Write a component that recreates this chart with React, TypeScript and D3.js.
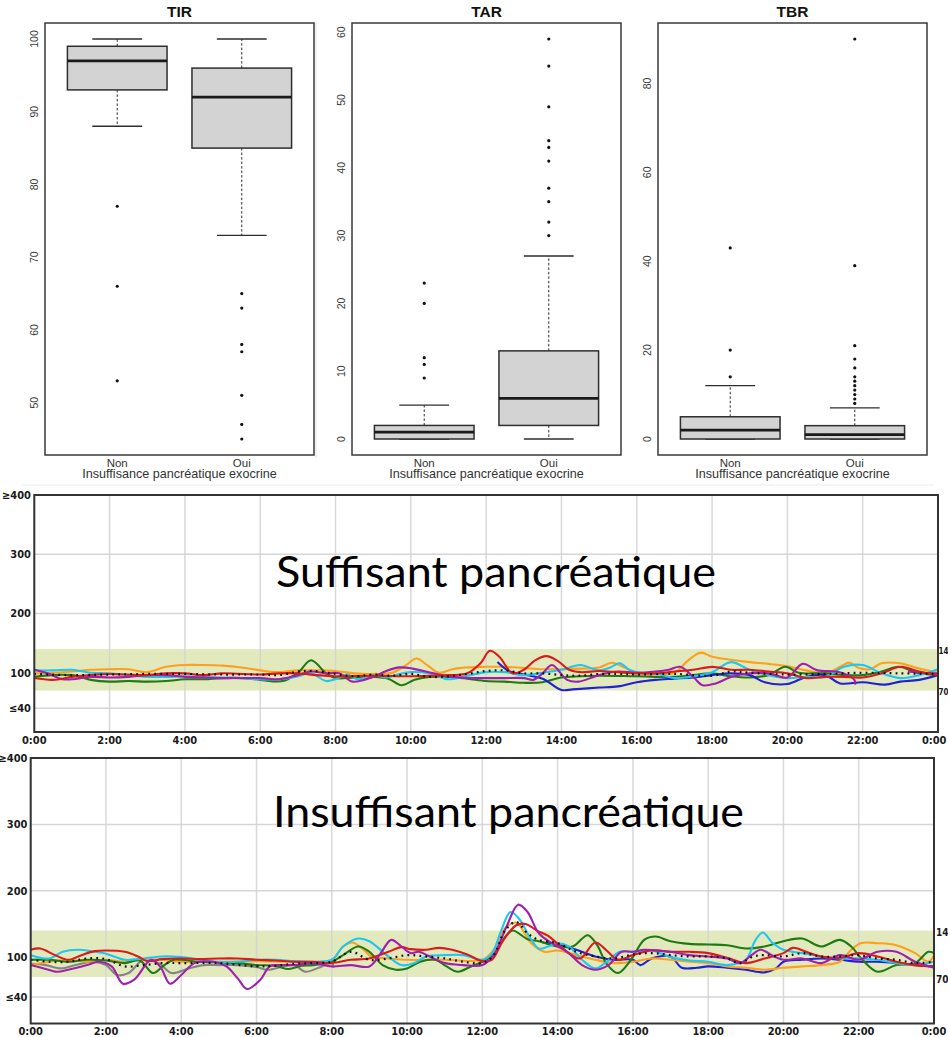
import React from "react";
import * as d3 from "d3";

type Pt = [number, number | null];

// ---------- Boxplot data (TIR / TAR / TBR) : [lower whisker, Q1, median, Q3, upper whisker]
const groups = ["Non", "Oui"];
const tirNon = [88, 93, 97, 99, 100];
const tirOui = [73, 85, 92, 96, 100];
const tirNonOut = [77, 66, 53];
const tirOuiOut = [65, 63, 58, 57, 51, 47, 45];
const tirTicks = [50, 60, 70, 80, 90, 100];

const tarNon = [0, 0, 1, 2, 5];
const tarOui = [0, 2, 6, 13, 27];
const tarNonOut = [9, 11, 12, 20, 23];
const tarOuiOut = [30, 32, 35, 37, 41, 43, 44, 49, 55, 59];
const tarTicks = [0, 10, 20, 30, 40, 50, 60];

const tbrNon = [0, 0, 2, 5, 12];
const tbrOui = [0, 0, 1, 3, 7];
const tbrNonOut = [14, 20, 43];
const tbrOuiOut = [8, 9, 10, 11, 12, 13, 14, 16, 18, 21, 39, 90];
const tbrTicks = [0, 20, 40, 60, 80];

// ---------- CGM profile axes
const hourTicks = [0, 2, 4, 6, 8, 10, 12, 14, 16, 18, 20, 22, 24];
const hourLabels = ["0:00", "2:00", "4:00", "6:00", "8:00", "10:00", "12:00", "14:00", "16:00", "18:00", "20:00", "22:00", "0:00"];
const glucoseTicks = [400, 300, 200, 100, 40];
const glucoseLabels = ["≥400", "300", "200", "100", "≤40"];
const gridGlucose = [300, 200, 40];
const targetRange = [70, 140];
const rangeLabels = ["14", "70"]; // "140" is cut by the picture's right edge in the reference

// ---------- Suffisant pancréatique : [hour, mg/dL]
const sufOrange: Pt[] = [[0,99],[0.5,100],[1,102],[1.5,105],[2,106],[2.5,106],[3,101],[3.5,110],[4,113],[4.5,113],[5,112],[5.5,109],[6,104],[6.4,101],[7,104],[7.5,104],[8,103],[8.5,99],[9,98],[9.5,100],[9.85,112],[10.15,124],[10.45,112],[10.75,100],[11.1,106],[11.5,109],[12,110],[12.5,110],[13,108],[13.5,106],[14,106],[14.5,107],[15,109],[15.35,117],[15.7,108],[16,100],[16.5,98],[17,100],[17.35,120],[17.7,134],[18,127],[18.5,122],[19,118],[19.5,115],[20,111],[20.5,104],[21,99],[21.4,110],[21.65,117],[21.9,108],[22.2,106],[22.5,116],[23,116],[23.5,107],[24,100]];
const sufCyan: Pt[] = [[0,104],[0.5,104],[1,105],[1.5,100],[2,99],[2.5,96],[3,93],[3.5,93],[4,94],[4.5,93],[5,92],[5.5,91],[6,89],[6.5,89],[7,94],[7.35,99],[7.75,86],[8.05,90],[8.3,97],[8.6,89],[9,96],[9.35,92],[9.7,98],[10,101],[10.5,99],[11,89],[11.5,95],[12,101],[12.5,101],[13,96],[13.5,100],[14,105],[14.5,113],[15,104],[15.3,109],[15.55,116],[15.8,105],[16.1,100],[16.5,99],[17,91],[17.5,94],[18,101],[18.5,118],[19,105],[19.5,96],[20,91],[20.5,93],[21,93],[21.5,110],[22,113],[22.5,99],[23,91],[23.5,96],[24,106]];
const sufGreen: Pt[] = [[0,93],[0.5,96],[1,96],[1.5,88],[2,85],[2.5,86],[3,85],[3.5,86],[4,89],[4.5,89],[5,91],[5.5,91],[6,88],[6.6,86],[7,100],[7.35,121],[7.75,99],[8,91],[8.5,92],[9,93],[9.4,90],[9.75,79],[10.1,88],[10.5,93],[11,93],[11.5,90],[12,86],[12.5,85],[13,83],[13.5,84],[14,92],[14.5,94],[15,95],[16,94],[17,93],[17.5,96],[18,99],[18.5,94],[19,92],[19.5,96],[19.95,110],[20.3,100],[21,99],[21.5,96],[22,96],[22.5,102],[22.95,110],[23.5,99],[24,96]];
const sufRed: Pt[] = [[0,91],[0.5,88],[1,93],[1.5,96],[2,98],[3,96],[3.5,99],[4,99],[4.5,96],[5,99],[6,97],[6.5,99],[7,99],[7.5,96],[8,94],[9,95],[10,94],[11,96],[11.5,99],[11.85,116],[12.1,137],[12.35,127],[12.7,99],[13,105],[13.3,121],[13.6,128],[13.9,120],[14.2,105],[14.5,101],[15,103],[15.5,101],[16,99],[16.5,99],[17,102],[17.5,105],[18,110],[18.5,105],[19,105],[19.5,102],[20,99],[20.5,91],[21,93],[21.5,93],[22,92],[22.5,99],[23,110],[23.5,102],[24,96]];
const sufPurple: Pt[] = [[0,105],[0.35,99],[0.75,89],[1,89],[1.5,93],[2,92],[2.5,93],[3,96],[3.5,96],[4,93],[4.5,92],[5,91],[6,91],[6.5,89],[7,96],[7.35,102],[7.75,99],[8.1,99],[8.45,85],[9,93],[9.35,103],[9.7,109],[10.05,107],[10.6,99],[11.1,93],[11.6,91],[12,91],[12.5,91],[13,91],[13.25,88],[13.5,99],[13.75,113],[14.15,88],[14.45,85],[15,96],[15.5,102],[16,100],[16.5,102],[16.85,105],[17.15,110],[17.5,93],[17.75,79],[18.1,82],[18.5,93],[19,99],[19.5,99],[20,92],[20.4,115],[20.8,104],[21.3,102],[21.6,96],[21.78,88],[21.8,80],[22.5,null],[23.2,102],[23.6,100],[24,99]];
const sufBlue: Pt[] = [[12.3,118],[12.6,103],[13,97],[13.5,90],[14,71],[14.3,72],[15,75],[15.5,77],[16,84],[16.5,88],[17,90],[17.5,92],[18,96],[18.5,99],[19,96],[19.4,84],[20,81],[20.5,93],[21,96],[21.4,82],[22,84],[22.6,80],[23,85],[23.5,88],[24,96]];
const sufMedian: Pt[] = [[0,98],[1,96],[2,97],[3,98],[4,98],[5,97],[6,97],[6.5,96],[7,102],[7.4,103],[8,98],[8.5,94],[9,97],[9.5,95],[10,98],[10.5,93],[11,94],[11.5,98],[12,103],[12.5,104],[13,99],[13.5,99],[14,96],[14.5,95],[15,98],[15.5,98],[16,97],[17,98],[18,95],[18.5,102],[19,100],[20,97],[21,98],[22,100],[23,99],[24,98]];

// ---------- Insuffisant pancréatique : [hour, mg/dL]
const insRed: Pt[] = [[0,111],[0.25,113],[0.65,103],[1,96],[1.35,103],[1.7,109],[2,110],[2.5,108],[2.85,101],[3.1,94],[3.5,97],[4,98],[4.5,97],[5,98],[5.5,98],[6,96],[6.5,95],[7,93],[7.5,93],[8,91],[8.5,96],[9,98],[9.5,108],[9.85,115],[10.1,112],[10.5,111],[10.85,114],[11.2,111],[11.6,104],[12,94],[12.25,96],[12.55,125],[12.9,148],[13.15,150],[13.45,140],[13.75,132],[14,120],[14.3,106],[14.6,98],[15,122],[15.3,110],[15.6,96],[16,103],[16.5,110],[17,108],[17.5,108],[18,106],[18.5,99],[19,91],[19.5,98],[20,106],[20.25,114],[20.6,108],[21,101],[21.5,99],[22,106],[22.5,101],[23,93],[23.5,88],[24,86]];
const insCyan: Pt[] = [[0,103],[0.5,98],[0.85,108],[1.25,111],[1.7,108],[2,105],[2.5,96],[3,98],[3.5,101],[4,100],[4.5,96],[5,93],[5.5,93],[6,96],[6.5,96],[7,94],[7.5,93],[8,96],[8.3,116],[8.7,128],[9.0,124],[9.5,101],[9.85,88],[10.2,91],[10.5,101],[11,103],[11.5,103],[12,96],[12.25,105],[12.5,140],[12.75,168],[13,156],[13.25,131],[13.5,113],[13.75,116],[14,121],[14.3,116],[14.65,96],[15,83],[15.3,93],[15.65,108],[16,108],[16.5,110],[17,100],[17.5,95],[18,93],[18.5,88],[19,96],[19.25,125],[19.45,137],[19.7,122],[20,111],[20.5,106],[21,101],[21.5,98],[22,98],[22.5,96],[23,91],[23.5,88],[24,93]];
const insGreen: Pt[] = [[0,96],[0.5,96],[1,93],[1.5,96],[2,95],[2.5,91],[2.9,95],[3.25,76],[3.55,88],[3.8,96],[4,96],[4.5,93],[5,92],[5.5,91],[6,88],[6.5,87],[6.85,82],[7.2,87],[7.5,88],[8,93],[8.3,103],[8.7,116],[9,108],[9.35,88],[9.7,81],[10,83],[10.35,93],[10.75,96],[11.05,86],[11.35,78],[11.7,86],[12,93],[12.3,104],[12.55,126],[12.8,140],[13.2,127],[13.5,124],[14,116],[14.4,116],[14.8,133],[15.05,118],[15.3,90],[15.6,76],[15.95,96],[16.3,126],[16.6,131],[17,124],[17.5,120],[18,119],[18.5,118],[19,113],[19.5,116],[20,124],[20.5,128],[21,116],[21.5,126],[21.8,116],[22.1,96],[22.5,78],[23,88],[23.5,91],[23.85,108],[24,106]];
const insPurple: Pt[] = [[0,88],[0.35,83],[0.7,78],[1,81],[1.5,88],[1.8,93],[2.15,86],[2.45,60],[2.75,66],[3.2,96],[3.45,85],[3.7,60],[4.0,73],[4.35,91],[4.85,93],[5.2,86],[5.5,68],[5.75,52],[6.1,66],[6.35,86],[6.6,88],[7,88],[7.5,91],[8,86],[8.5,88],[9,86],[9.3,106],[9.58,126],[9.85,116],[10.1,106],[10.3,108],[10.6,101],[11,91],[11.5,88],[12,88],[12.3,103],[12.65,147],[12.95,179],[13.2,168],[13.5,136],[13.85,121],[14.25,108],[14.65,88],[15,81],[15.35,88],[15.7,108],[16,108],[16.3,111],[17,108],[17.5,103],[18,101],[18.5,98],[18.85,91],[19.15,103],[19.4,111],[19.75,101],[20,96],[20.5,98],[21,91],[21.5,103],[22,96],[22.5,108],[23,108],[23.5,93],[24,84]];
const insOrange: Pt[] = [[0,88],[0.5,93],[1,96],[1.5,93],[2,96],[2.5,93],[3,96],[3.5,96],[4,93],[5,93],[6,94],[7,93],[8,96],[8.3,116],[8.55,122],[8.85,111],[9.05,101],[9.5,98],[10,96],[11,96],[12,96],[12.3,111],[12.6,143],[12.9,152],[13.3,121],[13.65,108],[14,110],[14.5,103],[15,96],[15.5,91],[16,93],[16.5,98],[17,96],[17.5,93],[18,91],[18.5,86],[19,84],[19.5,81],[20,84],[20.5,86],[21,88],[21.5,93],[21.8,111],[22.05,121],[22.5,121],[23,118],[23.5,106],[23.85,93],[24,103]];
const insGrey: Pt[] = [[0,90],[0.4,88],[0.8,83],[1.2,88],[1.65,93],[2.0,88],[2.3,73],[2.6,76],[3.0,96],[3.4,91],[3.75,76],[4.2,83],[4.6,88],[5,88],[5.5,88],[6,85],[6.3,81],[6.7,86],[7.0,88],[7.3,78],[7.65,84],[8.0,91],[8.05,84]];
const insBlue: Pt[] = [[13.6,122],[14,119],[14.5,111],[15,101],[15.5,96],[16,96],[16.2,88],[16.5,98],[17,101],[17.3,84],[17.7,84],[18,86],[18.5,84],[19,81],[19.5,77],[19.8,83],[20,93],[20.5,96],[21,98],[21.5,96],[22,93],[22.5,93],[23,91],[23.5,88],[24,86]];
const insMedian: Pt[] = [[0,96],[0.5,93],[1,93],[1.5,98],[2,97],[2.5,86],[3,88],[3.5,91],[4,91],[5,91],[6,86],[6.5,87],[7,90],[7.5,91],[8,93],[8.5,108],[9,96],[9.5,98],[10,103],[10.5,101],[11,98],[11.5,93],[12,91],[12.3,103],[12.6,140],[12.9,153],[13.2,136],[13.5,126],[14,121],[14.5,108],[15,101],[15.5,98],[16,104],[16.5,106],[17,103],[17.5,101],[18,101],[18.5,98],[18.85,91],[19.2,101],[19.5,103],[20,101],[20.5,106],[21,101],[21.5,101],[22,103],[22.5,98],[23,96],[23.5,91],[24,93]];

const C = {
  orange: "#ff9f1c",
  cyan: "#1ec6f2",
  green: "#1e7a12",
  red: "#dc1a1a",
  purple: "#a11fae",
  blue: "#2020d4",
  grey: "#858585",
};

const BOX_FONT = "'Liberation Sans', Arial, Helvetica, sans-serif";
const CGM_FONT = "'Liberation Sans Narrow', 'DejaVu Sans Condensed', 'Arial Narrow', sans-serif";
const TITLE_FONT = "Lato, 'Open Sans', 'Noto Sans', sans-serif";
const PAGE_W = 948;

interface BoxProps {
  title: string;
  left: number;
  right: number;
  top: number;
  bottom: number;
  stats: number[][];
  outliers: number[][];
  ticks: number[];
}

function BoxPanel({ title, left, right, top, bottom, stats, outliers, ticks }: BoxProps) {
  const all = [...stats.flat(), ...outliers.flat()];
  const mn = d3.min(all) as number;
  const mx = d3.max(all) as number;
  const pad = (mx - mn) * 0.04;
  const y = d3.scaleLinear().domain([mn - pad, mx + pad]).range([bottom, top]);
  const x = d3.scaleLinear().domain([0.42, 2.58]).range([left, right]);
  const half = x(1.4) - x(1);
  const cap = half / 2;
  const stroke = "#2e2e2e";
  return (
    <g>
      <text x={(left + right) / 2} y={17} textAnchor="middle" fontFamily={BOX_FONT} fontWeight="bold" fontSize={15.5} fill="#111">
        {title}
      </text>
      {ticks.map((t) => (
        <text key={t} transform={`translate(${left - 7},${y(t)}) rotate(-90)`} textAnchor="middle" fontFamily={BOX_FONT} fontSize={10.5} fill="#3a3a3a">
          {t}
        </text>
      ))}
      {stats.map((s, i) => {
        const cx = x(i + 1);
        const [lo, q1, med, q3, hi] = s;
        return (
          <g key={i}>
            <line x1={cx} x2={cx} y1={y(q3)} y2={y(hi)} stroke={stroke} strokeWidth={1} strokeDasharray="2.5 2" />
            <line x1={cx} x2={cx} y1={y(q1)} y2={y(lo)} stroke={stroke} strokeWidth={1} strokeDasharray="2.5 2" />
            <line x1={cx - cap} x2={cx + cap} y1={y(hi)} y2={y(hi)} stroke={stroke} strokeWidth={1.4} />
            <line x1={cx - cap} x2={cx + cap} y1={y(lo)} y2={y(lo)} stroke={stroke} strokeWidth={1.4} />
            <rect x={cx - half} y={y(q3)} width={2 * half} height={y(q1) - y(q3)} fill="#d3d3d3" stroke={stroke} strokeWidth={1.5} />
            <line x1={cx - half} x2={cx + half} y1={y(med)} y2={y(med)} stroke="#1a1a1a" strokeWidth={2.8} />
            {outliers[i].map((o, j) => (
              <circle key={j} cx={cx} cy={y(o)} r={1.6} fill="#111" />
            ))}
            <text x={cx} y={466.5} textAnchor="middle" fontFamily={BOX_FONT} fontSize={11.5} fill="#333">
              {groups[i]}
            </text>
          </g>
        );
      })}
      <rect x={left} y={top} width={right - left} height={bottom - top} fill="none" stroke="#3a3a3a" strokeWidth={1.5} />
      <text x={(left + right) / 2} y={478} textAnchor="middle" fontFamily={BOX_FONT} fontSize={12.6} fill="#333">
        Insuffisance pancréatique exocrine
      </text>
    </g>
  );
}

interface Series {
  color: string;
  data: Pt[];
}

interface CgmProps {
  id: string;
  left: number;
  right: number;
  top: number;
  bottom: number;
  title: string;
  titleX: number;
  titleY: number;
  titleLen: number;
  yLabelX: number;
  series: Series[];
  median: Pt[];
}

function CgmChart(p: CgmProps) {
  const x = d3.scaleLinear().domain([0, 24]).range([p.left, p.right]);
  const y = d3.scaleLinear().domain([0, 400]).range([p.bottom, p.top]);
  const line = d3
    .line<Pt>()
    .defined((d) => d[1] !== null)
    .x((d) => x(d[0]))
    .y((d) => y(d[1] as number))
    .curve(d3.curveCatmullRom.alpha(0.5));
  const labelStyle = { fontFamily: CGM_FONT, fontWeight: "bold" as const, fill: "#1a1a1a" };
  const rangeX = Math.min(p.right + 2, PAGE_W - 9.5);
  const rangeFont = Math.min(10, (PAGE_W - 1.5 - rangeX) / 1.0);
  return (
    <g>
      <defs>
        <clipPath id={p.id}>
          <rect x={p.left} y={p.top} width={p.right - p.left} height={p.bottom - p.top} />
        </clipPath>
      </defs>
      <rect x={p.left} y={p.top} width={p.right - p.left} height={p.bottom - p.top} fill="#fff" />
      <rect x={p.left} y={y(targetRange[1])} width={p.right - p.left} height={y(targetRange[0]) - y(targetRange[1])} fill="#e2eabd" />
      {gridGlucose.map((g) => (
        <line key={g} x1={p.left} x2={p.right} y1={y(g)} y2={y(g)} stroke="#d6d6d6" strokeWidth={1.5} />
      ))}
      {hourTicks.map((h) => (
        <line key={h} x1={x(h)} x2={x(h)} y1={p.top} y2={p.bottom} stroke="#d2d2d2" strokeOpacity={0.85} strokeWidth={1.5} />
      ))}
      <text
        x={p.titleX}
        y={p.titleY}
        fontFamily={TITLE_FONT}
        fontSize={42}
        fill="#000"
        textLength={p.titleLen}
        lengthAdjust="spacingAndGlyphs"
      >
        {p.title}
      </text>
      <g clipPath={`url(#${p.id})`}>
        {p.series.map((s, i) => (
          <path key={i} d={line(s.data) || ""} fill="none" stroke={s.color} strokeWidth={2.1} strokeLinejoin="round" />
        ))}
        <path d={line(p.median) || ""} fill="none" stroke="#111" strokeWidth={2.2} strokeDasharray="1.8 4.2" />
      </g>
      <rect x={p.left} y={p.top} width={p.right - p.left} height={p.bottom - p.top} fill="none" stroke="#333" strokeWidth={2} />
      {glucoseTicks.map((g, i) => (
        <text key={g} x={p.yLabelX} y={y(g)} dy="0.35em" textAnchor="end" fontSize={11} {...labelStyle}>
          {glucoseLabels[i]}
        </text>
      ))}
      {hourTicks.map((h, i) => {
        const last = i === hourTicks.length - 1;
        const xx = x(h);
        const edge = last && xx + 10 > PAGE_W - 1;
        return (
          <text
            key={i}
            x={edge ? PAGE_W - 1.5 : xx}
            y={p.bottom + 11.5}
            textAnchor={edge ? "end" : "middle"}
            fontSize={11}
            {...labelStyle}
          >
            {hourLabels[i]}
          </text>
        );
      })}
      {targetRange
        .slice()
        .reverse()
        .map((r, i) => (
          <text key={r} x={rangeX} y={y(r) + 2} dy="0.35em" fontSize={rangeFont} {...labelStyle}>
            {rangeLabels[i]}
          </text>
        ))}
    </g>
  );
}

export default function App() {
  return (
    <div style={{ position: "absolute", left: 0, top: 0 }}>
      <svg width={948} height={1037} viewBox="0 0 948 1037" style={{ display: "block", background: "#fff" }}>
        <rect x={0} y={0} width={948} height={1037} fill="#fff" />
        <line x1={316} x2={316} y1={22} y2={458} stroke="#e4e4e4" strokeWidth={1} />
        <line x1={22} x2={934} y1={485} y2={485} stroke="#ececec" strokeWidth={1} />
        <BoxPanel title="TIR" left={45} right={314} top={23} bottom={455} stats={[tirNon, tirOui]} outliers={[tirNonOut, tirOuiOut]} ticks={tirTicks} />
        <BoxPanel title="TAR" left={352} right={621} top={23} bottom={455} stats={[tarNon, tarOui]} outliers={[tarNonOut, tarOuiOut]} ticks={tarTicks} />
        <BoxPanel title="TBR" left={658} right={927} top={23} bottom={455} stats={[tbrNon, tbrOui]} outliers={[tbrNonOut, tbrOuiOut]} ticks={tbrTicks} />
        <CgmChart
          id="clip-suf"
          left={34.3}
          right={938}
          top={495}
          bottom={732}
          title="Suffisant pancréatique"
          titleX={276}
          titleY={587}
          titleLen={440}
          yLabelX={31}
          series={[
            { color: C.orange, data: sufOrange },
            { color: C.green, data: sufGreen },
            { color: C.blue, data: sufBlue },
            { color: C.cyan, data: sufCyan },
            { color: C.purple, data: sufPurple },
            { color: C.red, data: sufRed },
          ]}
          median={sufMedian}
        />
        <CgmChart
          id="clip-ins"
          left={30.7}
          right={934}
          top={758}
          bottom={1023.5}
          title="Insuffisant pancréatique"
          titleX={273}
          titleY={827}
          titleLen={471}
          yLabelX={27.5}
          series={[
            { color: C.grey, data: insGrey },
            { color: C.blue, data: insBlue },
            { color: C.orange, data: insOrange },
            { color: C.green, data: insGreen },
            { color: C.cyan, data: insCyan },
            { color: C.red, data: insRed },
            { color: C.purple, data: insPurple },
          ]}
          median={insMedian}
        />
      </svg>
    </div>
  );
}
